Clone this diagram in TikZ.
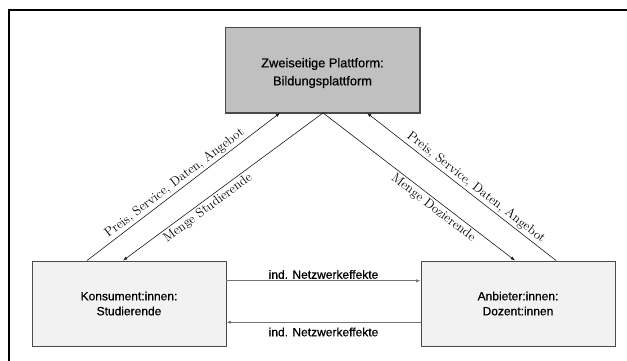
\documentclass[tikz,border=0pt]{standalone}
\usepackage{fontspec}
\usetikzlibrary{arrows.meta,calc}
\newfontfamily\boxfont[FakeBold=0.6]{Liberation Sans}
\definecolor{platgray}{HTML}{C0C0C0}
\definecolor{sidegray}{HTML}{F2F2F2}
\definecolor{edgegray}{HTML}{4A4A4A}
\tikzset{
  actor/.style={draw=edgegray, line width=0.8bp, minimum width=194bp, minimum height=85bp,
    align=center, inner sep=0pt, font=\boxfont\fontsize{12bp}{15bp}\selectfont},
  shadowedge/.style={draw=edgegray, line width=1.8bp},
  flow/.style={draw=black!90, line width=0.6bp, -{Latex[length=4.5bp,width=3.2bp]}},
  effect/.style={draw=black!55, line width=0.8bp, -{Latex[length=4.5bp,width=3.2bp]}},
  serlabel/.style={font=\fontsize{13bp}{14bp}\selectfont, sloped, inner sep=2bp},
  efflabel/.style={font=\boxfont\fontsize{12bp}{14bp}\selectfont, inner sep=0pt}
}
\begin{document}
\begin{tikzpicture}[x=1bp, y=-1bp]
  \useasboundingbox (0,0) rectangle (627,360);
  % outer frame (only its top and left sides lie on the page)
  \draw[line width=1.1bp] (9,370) -- (9,10) -- (640,10);

  % the three parties
  \node[actor, fill=platgray] (plat) at (322.5,70) {};
  \node[font=\boxfont\fontsize{12.8bp}{18bp}\selectfont, align=center] (plattext) at (322.5,73)
    {Zweiseitige Plattform:\\Bildungsplattform};
  \node[actor, fill=sidegray] (kons) at (129,303.5) {Konsument:innen:\\Studierende};
  \node[actor, fill=sidegray] (anb) at (518,303.5) {Anbieter:innen:\\Dozent:innen};
  \foreach \n in {plat,kons,anb}
    \draw[shadowedge] (\n.north east) -- (\n.south east) -- (\n.south west);

  % exchanges with the platform
  \draw[flow] ($(kons.north west)!0.284!(kons.north east)$) --
    node[serlabel, above, pos=0.48] {Preis, Service, Daten, Angebot}
    ($(plat.south west)!0.282!(plat.south east)$);
  \draw[flow] ($(plat.south west)!0.503!(plat.south east)$) --
    node[serlabel, below, pos=0.6] {Menge Studierende}
    ($(kons.north west)!0.469!(kons.north east)$);
  \draw[flow] ($(plat.south west)!0.503!(plat.south east)$) --
    node[serlabel, below, pos=0.6] {Menge Dozierende}
    ($(anb.north west)!0.485!(anb.north east)$);
  \draw[flow] ($(anb.north west)!0.696!(anb.north east)$) --
    node[serlabel, above, pos=0.45] {Preis, Service, Daten, Angebot}
    ($(plat.south west)!0.728!(plat.south east)$);

  % indirect network effects between both sides
  \draw[effect] ($(kons.north east)!0.235!(kons.south east)$) --
    node[efflabel, above=1.5bp] {ind. Netzwerkeffekte}
    ($(anb.north west)!0.235!(anb.south west)$);
  \draw[effect] ($(anb.north west)!0.718!(anb.south west)$) --
    node[efflabel, below=5bp] {ind. Netzwerkeffekte}
    ($(kons.north east)!0.718!(kons.south east)$);
\end{tikzpicture}
\end{document}
